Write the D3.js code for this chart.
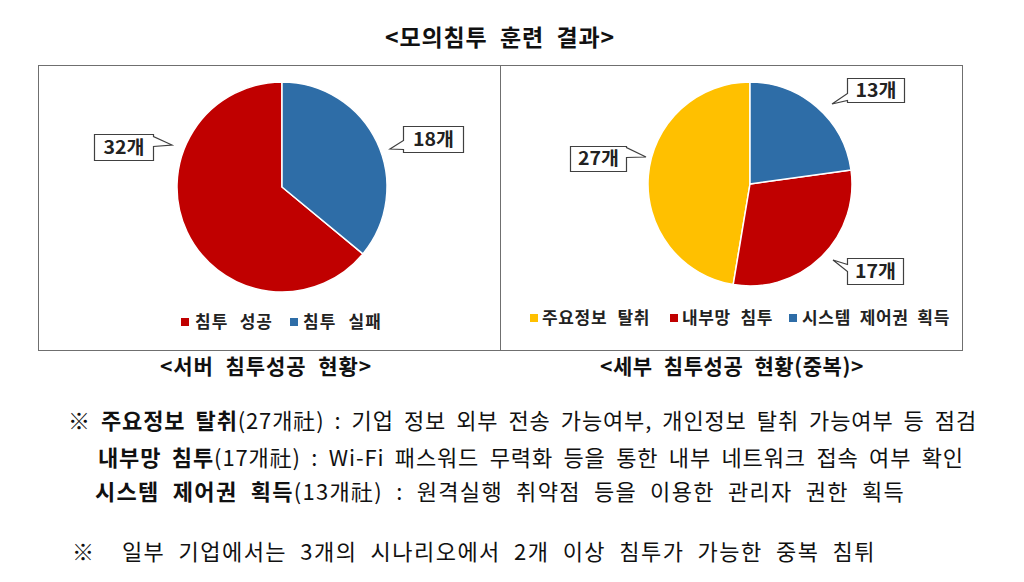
<!DOCTYPE html>
<html><head><meta charset="utf-8">
<script src="https://cdn.jsdelivr.net/npm/d3@7"></script>
<style>html,body{margin:0;padding:0;background:#fff}svg{display:block}</style>
</head><body>
<script>
// ---------- data ----------
const titleText = "<모의침투 훈련 결과>";
const serverTitle = "<서버 침투성공 현황>";
const detailTitle = "<세부 침투성공 현황(중복)>";
const unit = "개";
const serverCategories = ["침투 성공", "침투 실패"];
const serverValues = [32, 18];
const detailCategories = ["주요정보 탈취", "내부망 침투", "시스템 제어권 획득"];
const detailValues = [27, 17, 13];
const noteLines = [
  [["※ ", false], ["주요정보 탈취", true], ["(27개社) : 기업 정보 외부 전송 가능여부, 개인정보 탈취 가능여부 등 점검", false]],
  [["내부망 침투", true], ["(17개社) : Wi-Fi 패스워드 무력화 등을 통한 내부 네트워크 접속 여부 확인", false]],
  [["시스템 제어권 획득", true], ["(13개社) : 원격실행 취약점 등을 이용한 관리자 권한 획득", false]],
  [["※  일부 기업에서는 3개의 시나리오에서 2개 이상 침투가 가능한 중복 침튀", false]]
];

// ---------- styles / layout ----------
const FONT = "'Noto Sans CJK KR','Noto Sans',sans-serif";
const RED = "#C00000", BLUE = "#2E6DA7", YELLOW = "#FFC000";
const serverColor = d3.scaleOrdinal().domain(serverCategories).range([RED, BLUE]);
const detailColor = d3.scaleOrdinal().domain(detailCategories).range([YELLOW, RED, BLUE]);

const W = 1024, H = 582;
const svg = d3.select("body").append("svg").attr("width", W).attr("height", H)
  .style("font-family", FONT);

// scale font up to a cap, then share the remaining width between word gaps and letters
function fitText(sel, x0, x1, cap) {
  const target = x1 - x0;
  const node = sel.node();
  sel.attr("font-size", 10);
  const l10 = node.getComputedTextLength();
  const fs = Math.min(cap, 10 * target / l10);
  sel.attr("font-size", fs);
  const L = node.getComputedTextLength();
  const txt = node.textContent;
  const nSp = (txt.match(/ /g) || []).length;
  const nCh = txt.length;
  const rem = target - L;
  if (rem > 0.5) {
    const ws = nSp > 0 ? 0.55 * rem / nSp : 0;
    const ls = (rem - ws * nSp) / nCh;
    sel.style("word-spacing", ws + "px").style("letter-spacing", ls + "px");
  }
  const L2 = node.getComputedTextLength();
  if (Math.abs(L2 - target) > 1.5) {
    sel.attr("textLength", target).attr("lengthAdjust", "spacing");
  }
}

// title
svg.append("text").attr("x", 385).attr("y", 38).attr("dy", "0.36em")
  .attr("font-weight", "bold").attr("fill", "#111")
  .text(titleText).call(fitText, 385, 615, 23);

// frame
svg.append("rect").attr("x", 38.5).attr("y", 65.5).attr("width", 924).attr("height", 285)
  .attr("fill", "none").attr("stroke", "#6f6f6f").attr("stroke-width", 1);
svg.append("line").attr("x1", 500.5).attr("x2", 500.5).attr("y1", 65.5).attr("y2", 350.5)
  .attr("stroke", "#6f6f6f").attr("stroke-width", 1);

// pies (clockwise from 12 o'clock, last category first)
function drawPie(cx, cy, r, cats, vals, color) {
  const pie = d3.pie().sort(null).startAngle(2 * Math.PI).endAngle(0);
  const arcs = pie(vals);
  const arc = d3.arc().innerRadius(0).outerRadius(r);
  const g = svg.append("g").attr("transform", `translate(${cx},${cy})`);
  g.selectAll("path").data(arcs).join("path")
    .attr("d", arc).attr("fill", (d, i) => color(cats[i]))
    .attr("stroke", "#fff").attr("stroke-width", 1.5).attr("stroke-linejoin", "round");
}
drawPie(282, 187, 105, serverCategories, serverValues, serverColor);
drawPie(750, 184, 102, detailCategories, detailValues, detailColor);

// callouts
function callout(text, b, side, by1, by2, ax, ay) {
  let p;
  if (side === "right") {
    p = `M${b.x},${b.y}H${b.x + b.w}V${by1}L${ax},${ay}L${b.x + b.w},${by2}V${b.y + b.h}H${b.x}Z`;
  } else {
    p = `M${b.x},${b.y}H${b.x + b.w}V${b.y + b.h}H${b.x}V${by2}L${ax},${ay}L${b.x},${by1}Z`;
  }
  svg.append("path").attr("d", p).attr("fill", "#fff").attr("stroke", "#404040").attr("stroke-width", 1.2);
  svg.append("text").attr("x", b.x + b.w / 2).attr("y", b.y + b.h / 2).attr("dy", "0.36em")
    .attr("text-anchor", "middle").attr("font-size", 18).attr("font-weight", "bold").attr("fill", "#222")
    .attr("textLength", 41).attr("lengthAdjust", "spacingAndGlyphs")
    .text(text);
}
callout(serverValues[0] + unit, { x: 94.5, y: 134.5, w: 59, h: 26 }, "right", 136.5, 146.5, 172, 145);
callout(serverValues[1] + unit, { x: 403.5, y: 126.5, w: 60, h: 26 }, "left", 140.5, 149.5, 390, 149);
callout(detailValues[2] + unit, { x: 847.5, y: 78.5, w: 57, h: 24 }, "left", 93.5, 100.5, 832, 104);
callout(detailValues[0] + unit, { x: 570.5, y: 146.5, w: 56, h: 25 }, "right", 147.5, 157.5, 646, 157);
callout(detailValues[1] + unit, { x: 847.5, y: 258.5, w: 56, h: 26 }, "left", 264.5, 271.5, 833, 260);

// legends
function legend(items, color, y) {
  items.forEach(it => {
    svg.append("rect").attr("x", it.sx).attr("y", y - 4).attr("width", 8).attr("height", 8)
      .attr("fill", color(it.c));
    svg.append("text").attr("x", it.tx0).attr("y", y).attr("dy", "0.36em")
      .attr("font-weight", "bold").attr("fill", "#222")
      .text(it.c).call(fitText, it.tx0, it.tx1, 17);
  });
}
legend([
  { c: serverCategories[0], sx: 181, tx0: 195, tx1: 273 },
  { c: serverCategories[1], sx: 290, tx0: 303, tx1: 382 }
], serverColor, 322);
legend([
  { c: detailCategories[0], sx: 530, tx0: 542, tx1: 650 },
  { c: detailCategories[1], sx: 670, tx0: 682, tx1: 773 },
  { c: detailCategories[2], sx: 789, tx0: 802, tx1: 950 }
], detailColor, 318);

// subtitles
svg.append("text").attr("x", 160).attr("y", 366).attr("dy", "0.36em")
  .attr("font-weight", "bold").attr("fill", "#111")
  .text(serverTitle).call(fitText, 160, 372, 21);
svg.append("text").attr("x", 600).attr("y", 366).attr("dy", "0.36em")
  .attr("font-weight", "bold").attr("fill", "#111")
  .text(detailTitle).call(fitText, 600, 864, 21);

// notes
const notePos = [
  { x0: 68, x1: 977, y: 421 },
  { x0: 98, x1: 964, y: 458 },
  { x0: 95, x1: 905, y: 492 },
  { x0: 72, x1: 876, y: 552 }
];
noteLines.forEach((parts, i) => {
  const p = notePos[i];
  const t = svg.append("text").attr("x", p.x0).attr("y", p.y).attr("dy", "0.36em")
    .attr("fill", "#111").attr("xml:space", "preserve");
  parts.forEach(([s, b]) => {
    t.append("tspan").attr("font-weight", b ? "bold" : "normal").text(s);
  });
  t.call(fitText, p.x0, p.x1, 22);
});
</script>
</body></html>
